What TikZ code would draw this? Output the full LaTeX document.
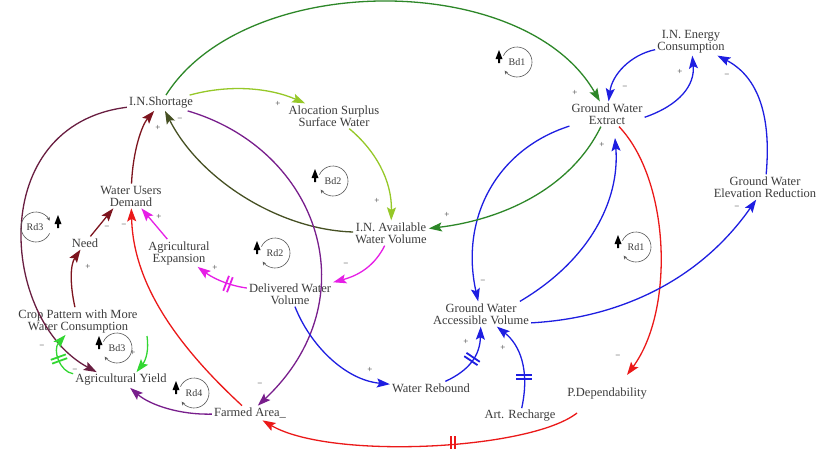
\documentclass[tikz,border=0pt]{standalone}
\usepackage{fontspec}
\setmainfont{Liberation Serif}
\usetikzlibrary{arrows.meta}
\definecolor{txt}{RGB}{60,60,60}
\definecolor{cDGreen}{RGB}{45,135,40}
\definecolor{cYGreen}{RGB}{150,200,40}
\definecolor{cOlive}{RGB}{70,80,35}
\definecolor{cMag}{RGB}{230,30,230}
\definecolor{cRed}{RGB}{235,25,25}
\definecolor{cMaroon}{RGB}{125,20,30}
\definecolor{cPlum}{RGB}{105,30,65}
\definecolor{cPurp}{RGB}{120,30,140}
\definecolor{cBlue}{RGB}{30,30,225}
\definecolor{cBGreen}{RGB}{50,215,50}
\tikzset{
  dmark/.pic={\draw[line width=1.8pt] (-2,-8)--(-2,8) (2,-8)--(2,8);},
  loopL/.pic={
    \draw[black!65,line width=0.6pt,-{Stealth[length=3.5pt,width=3.5pt]}] (205:15) arc[start angle=205,end angle=505,radius=15];
    \fill[black] (-18,-12) -- (-14.5,-3) -- (-17,-3) -- (-17,1) -- (-19,1) -- (-19,-3) -- (-21.5,-3) -- cycle;
    \node[font=\fontsize{10}{10}\selectfont,text=txt,inner sep=0pt] at (0,0) {#1};
  },
  loopR/.pic={
    \draw[black!65,line width=0.6pt,-{Stealth[length=3.5pt,width=3.5pt]}] (25:15) arc[start angle=25,end angle=335,radius=15];
    \fill[black] (22,-12) -- (25.5,-3) -- (23,-3) -- (23,1) -- (21,1) -- (21,-3) -- (18.5,-3) -- cycle;
    \node[font=\fontsize{10}{10}\selectfont,text=txt,inner sep=0pt] at (-1,0) {#1};
  },
}
\begin{document}
\begin{tikzpicture}[x=1pt,y=-1pt,
  var/.style={font=\fontsize{12.5}{12}\selectfont,text=txt,align=center,inner sep=2pt},
  lnk/.style={line width=1.3pt,-{Stealth[length=13pt,width=9pt,inset=2.5pt]}},
  sgn/.style={font=\fontsize{9}{9}\selectfont,text=txt,inner sep=0pt}]
\fill[white] (0,0) rectangle (818,448);
\useasboundingbox (0,0) rectangle (818,448);

% variables
\node[var] (Shortage) at (161,103) {I.N.Shortage};
\node[var] (Alloc) at (334,116) {Alocation Surplus\\Surface Water};
\node[var] (Demand) at (131,196) {Water Users\\Demand};
\node[var] (Need) at (85,243) {Need};
\node[var] (AgExp) at (179,253) {Agricultural\\Expansion};
\node[var] (Avail) at (391,233) {I.N. Available\\Water Volume};
\node[var] (Deliv) at (290,294) {Delivered Water\\Volume};
\node[var] (Crop) at (78,321) {Crop Pattern with More\\Water Consumption};
\node[var] (Yield) at (121,380) {Agricultural Yield};
\node[var] (Farmed) at (250,413) {Farmed Area\_};
\node[var] (Rebound) at (431,388) {Water Rebound};
\node[var] (Recharge) at (520,416) {Art. Recharge};
\node[var] (PDep) at (607,394) {P.Dependability};
\node[var] (Access) at (481,314) {Ground Water\\Accessible Volume};
\node[var] (Extract) at (607,114) {Ground Water\\Extract};
\node[var] (Energy) at (691,42) {I.N. Energy\\Consumption};
\node[var] (Elev) at (765,187) {Ground Water\\Elevation Reduction};
\coordinate (cg) at (147,336);

% connectors
\draw[lnk,cDGreen] (Shortage) .. controls (245,-30) and (525,-30) .. (Extract);
\draw[lnk,cYGreen] (Shortage) .. controls (230,84) and (270,88) .. (Alloc);
\draw[lnk,cYGreen] (Alloc) .. controls (375,150) and (392,180) .. (Avail);
\draw[lnk,cOlive] (Avail) .. controls (280,230) and (200,180) .. (Shortage);
\draw[lnk,cMag] (Avail) .. controls (375,265) and (360,275) .. (Deliv);
\draw[lnk,cMag] (Deliv) .. controls (225,285) and (210,276) .. (AgExp);
\draw[lnk,cMag] (AgExp) -- (Demand);
\draw[lnk,cRed] (Farmed) .. controls (160,330) and (133,270) .. (Demand);
\draw[lnk,cMaroon] (Need) -- (Demand.-145);
\draw[lnk,cMaroon] (Crop) .. controls (70,285) and (70,265) .. (Need);
\draw[lnk,cMaroon] (Demand) .. controls (133,150) and (142,125) .. (Shortage);
\draw[lnk,cPlum] (Shortage) .. controls (-15,125) and (0,320) .. (Yield.162);
\draw[lnk,cPurp] (Shortage) .. controls (320,150) and (370,300) .. (Farmed);
\draw[lnk,cPurp] (Farmed) .. controls (180,415) and (150,405) .. (Yield);
\draw[lnk,cRed] ([xshift=-30pt,yshift=-19pt]PDep.center) .. controls (530,450) and (330,460) .. (Farmed);
\draw[lnk,cRed] (Extract) .. controls (670,180) and (675,310) .. ([xshift=20pt,yshift=19pt]PDep.center);
\draw[lnk,cBlue] (Access.18) .. controls (590,260) and (620,200) .. ([xshift=8pt,yshift=-24pt]Extract.center);
\draw[lnk,cBlue] (Extract) .. controls (495,150) and (460,220) .. (Access);
\draw[lnk,cDGreen] (Extract) .. controls (570,190) and (500,220) .. (Avail);
\draw[lnk,cBlue] (Access.-10) .. controls (620,318) and (700,280) .. (Elev);
\draw[lnk,cBlue] (Elev) .. controls (772,110) and (755,75) .. (Energy);
\draw[lnk,cBlue] (Extract.-5) .. controls (680,105) and (695,85) .. (Energy);
\draw[lnk,cBlue] (Energy) .. controls (630,55) and (612,75) .. (Extract);
\draw[lnk,cBlue] (Deliv) .. controls (310,345) and (345,380) .. (Rebound);
\draw[lnk,cBlue] (Rebound) .. controls (470,370) and (480,355) .. (Access);
\draw[lnk,cBlue] (Recharge) .. controls (530,370) and (520,345) .. (Access);
\draw[lnk,cBGreen] (Yield) .. controls (60,372) and (52,350) .. (Crop);
\draw[lnk,cBGreen] (cg) .. controls (149,350) and (146,360) .. (Yield.27);

% delay marks
\pic[cMag,rotate=-21] at (228,284) {dmark};
\pic[cBlue,rotate=56] at (472,359) {dmark};
\pic[cBlue,rotate=90] at (524,377) {dmark};
\pic[cRed] at (453,444) {dmark};
\pic[cBGreen,rotate=110] at (59,359) {dmark};

% polarity signs
\node[sgn] at (575,93) {+};
\node[sgn] at (278,104) {+};
\node[sgn] at (377,201) {+};
\node[sgn] at (180,120) {−};
\node[sgn] at (346,265) {−};
\node[sgn] at (215,268) {+};
\node[sgn] at (159,217) {+};
\node[sgn] at (124,226) {−};
\node[sgn] at (107,228) {−};
\node[sgn] at (88,267) {+};
\node[sgn] at (158,128) {+};
\node[sgn] at (260,385) {−};
\node[sgn] at (618,357) {−};
\node[sgn] at (602,145) {+};
\node[sgn] at (483,282) {−};
\node[sgn] at (447,215) {+};
\node[sgn] at (737,208) {−};
\node[sgn] at (727,76) {−};
\node[sgn] at (680,72) {+};
\node[sgn] at (625,88) {−};
\node[sgn] at (370,370) {+};
\node[sgn] at (466,342) {+};
\node[sgn] at (503,348) {+};
\node[sgn] at (42,347) {−};
\node[sgn] at (75,371) {−};
\node[sgn] at (133,353) {+};

% loop markers
\pic at (517,62) {loopL=Bd1};
\pic at (333,181) {loopL=Bd2};
\pic at (275,253) {loopL=Rd2};
\pic at (636,247) {loopL=Rd1};
\pic at (36,227) {loopR=Rd3};
\pic at (117,348) {loopL=Bd3};
\pic at (194,393) {loopL=Rd4};
\end{tikzpicture}
\end{document}
